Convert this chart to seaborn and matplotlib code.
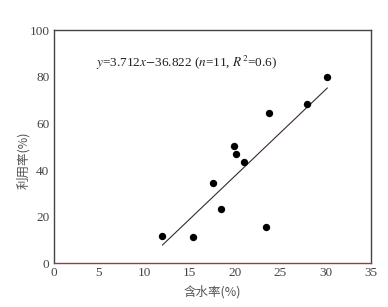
import matplotlib
matplotlib.use("Agg")
import matplotlib.pyplot as plt
import seaborn as sns
import pandas as pd
import numpy as np

# data
water = [12.0, 15.4, 17.6, 18.5, 19.9, 20.1, 21.0, 23.4, 23.8, 28.0, 30.2]
usage = [11.8, 11.1, 34.3, 23.3, 50.3, 47.0, 43.5, 15.3, 64.6, 68.3, 80.1]
slope = 3.712
intercept = -36.822
x_ticks = [0, 5, 10, 15, 20, 25, 30, 35]
y_ticks = [0, 20, 40, 60, 80, 100]

df = pd.DataFrame({'water': water, 'usage': usage})

sns.set_style('white')
plt.rcParams['font.family'] = ['Liberation Serif', 'Noto Sans CJK SC']
plt.rcParams['mathtext.fontset'] = 'stix'

fig = plt.figure(figsize=(3.88, 3.07), dpi=100)
ax = fig.add_axes([0.138, 0.143, 0.818, 0.758])

sns.scatterplot(data=df, x='water', y='usage', color='black', s=28,
                edgecolor='black', linewidth=0, ax=ax, zorder=3)

xl = np.array([min(water), max(water)])
sns.lineplot(x=xl, y=slope * xl + intercept, color='#3a2a2a', linewidth=0.8, ax=ax)

ax.set_xlim(0, 35)
ax.set_ylim(0, 100)
ax.set_xticks(x_ticks)
ax.set_yticks(y_ticks)
ax.tick_params(direction='in', length=4, width=0.8, labelsize=9.5,
               colors='#333333', labelcolor='#444444', pad=3)
for s in ax.spines.values():
    s.set_color('#444444')
    s.set_linewidth(1.0)
ax.spines['bottom'].set_color('#7a4a4a')

ax.set_xlabel('含水率(%)', fontsize=9, color='#555555',
              family=['Noto Sans CJK SC', 'Liberation Serif'], labelpad=4)
ax.set_ylabel('利用率(%)', fontsize=9, color='#555555',
              family=['Noto Sans CJK SC', 'Liberation Serif'])
ax.yaxis.set_label_coords(-0.075, 0.44)

ax.text(4.7, 86, r'$y$=3.712$x$$-$36.822 ($n$=11, $R^2$=0.6)',
        fontsize=9.5, color='#222222', va='center')

fig.savefig('out.png', dpi=100)
